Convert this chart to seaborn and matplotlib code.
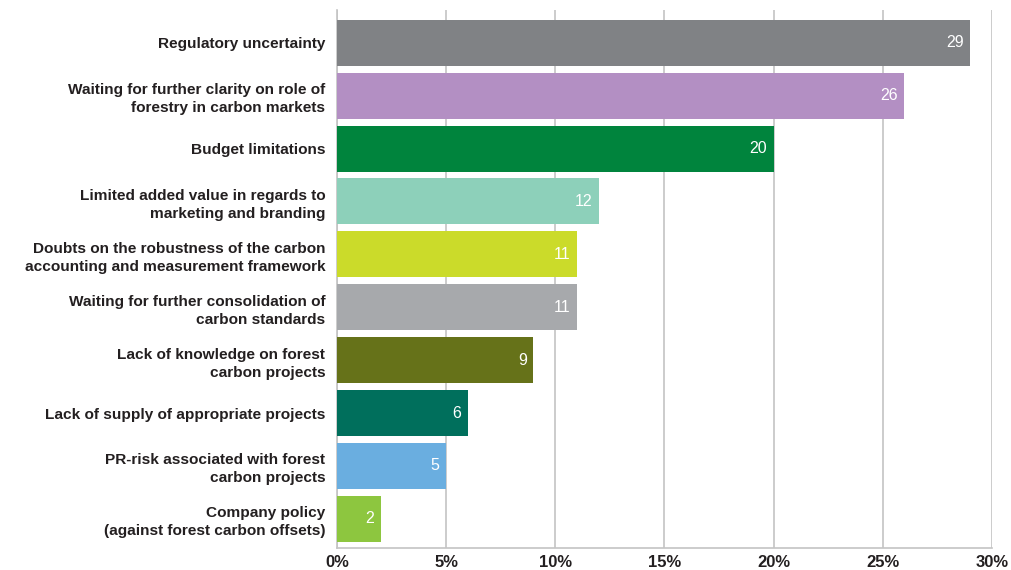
import matplotlib
matplotlib.use("Agg")
import matplotlib.pyplot as plt
import seaborn as sns
import pandas as pd

categories = [
    "Regulatory uncertainty",
    "Waiting for further clarity on role of\nforestry in carbon markets",
    "Budget limitations",
    "Limited added value in regards to\nmarketing and branding",
    "Doubts on the robustness of the carbon\naccounting and measurement framework",
    "Waiting for further consolidation of\ncarbon standards",
    "Lack of knowledge on forest\ncarbon projects",
    "Lack of supply of appropriate projects",
    "PR-risk associated with forest\ncarbon projects",
    "Company policy\n(against forest carbon offsets)",
]
values = [29, 26, 20, 12, 11, 11, 9, 6, 5, 2]
colors = ["#808285", "#b38fc3", "#00843d", "#8dd0ba", "#cbdb2a",
          "#a7a9ac", "#667219", "#006f5c", "#6aaee0", "#8dc63f"]
xticks = [0, 5, 10, 15, 20, 25, 30]
xticklabels = ["0%", "5%", "10%", "15%", "20%", "25%", "30%"]

df = pd.DataFrame({"category": categories, "value": values})

sns.set_style("white")
plt.rcParams["font.family"] = ["Liberation Sans", "DejaVu Sans"]

fig = plt.figure(figsize=(10.12, 5.70), dpi=100)
ax = fig.add_axes([0.333, 0.0386, 0.647, 0.9439])

sns.barplot(data=df, x="value", y="category", hue="category",
            palette=colors, legend=False, width=0.87, ax=ax,
            saturation=1, linewidth=0, edgecolor="none", zorder=3)

ax.set_xlim(0, 30)
ax.set_ylim(9.55, -0.62)
ax.set_xticks(xticks)
ax.set_xticklabels(xticklabels, fontsize=12, fontweight="bold", color="#231f20")
ax.tick_params(axis="x", length=0, pad=5)
ax.tick_params(axis="y", length=0, pad=8.5)
for lbl in ax.get_yticklabels():
    lbl.set_fontsize(11.1)
    lbl.set_fontweight("bold")
    lbl.set_color("#231f20")
    lbl.set_horizontalalignment("right")
    lbl.set_multialignment("right")
    lbl.set_linespacing(1.35)
ax.set_xlabel("")
ax.set_ylabel("")

ax.grid(axis="x", color="#c4c4c4", linewidth=1.2, zorder=0)
ax.grid(axis="y", visible=False)
for side in ["top", "right"]:
    ax.spines[side].set_visible(False)
for side in ["left", "bottom"]:
    ax.spines[side].set_visible(True)
    ax.spines[side].set_color("#c4c4c4")
    ax.spines[side].set_linewidth(1.2)

for i, v in enumerate(values):
    ax.text(v - 0.3, i, f"{v}", ha="right", va="center",
            color="white", fontsize=11.5, zorder=4)

fig.savefig("out.png", dpi=100)
